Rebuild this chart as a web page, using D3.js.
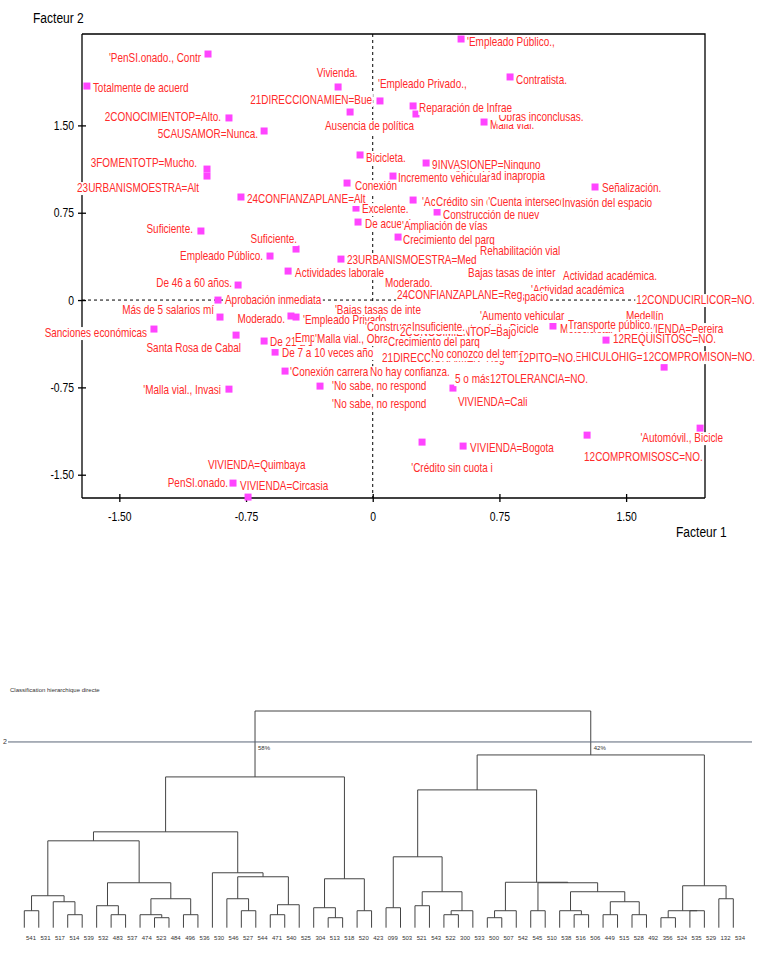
<!DOCTYPE html>
<html>
<head>
<meta charset="utf-8">
<script src="https://cdn.jsdelivr.net/npm/d3@7"></script>
<style>
  body { margin: 0; background: #fff; }
  svg text { font-family: "Liberation Sans", Arial, sans-serif; }
</style>
</head>
<body>
<svg id="chart" width="761" height="956"></svg>
<script>
// ---------- plan factoriel 1-2 : modalites ----------
var pointLabels = [
  "'Empleado Público.,", "'PenSI.onado., Contr", "Vivienda.", "Contratista.", "Totalmente de acuerd",
  "'Empleado Privado.,", "21DIRECCIONAMIEN=Bue", "Ausencia de política", "Malla vial.", "'Obras inconclusas.",
  "Reparación de Infrae", "2CONOCIMIENTOP=Alto.", "5CAUSAMOR=Nunca.", "Bicicleta.", "3FOMENTOTP=Mucho.",
  "9INVASIONEP=Ninguno", "'Velocidad inapropia", "Incremento vehicular", "23URBANISMOESTRA=Alt", "Conexión",
  "24CONFIANZAPLANE=Alt", "'Accidentes de tráns", "Crédito sin cuota in", "'Cuenta intersección", "Invasión del espacio",
  "Señalización.", "Excelente.", "Construcción de nuev", "De acuerdo.", "'Ampliación de vías",
  "Suficiente.", "Crecimiento del parq", "Rehabilitación vial", "Suficiente.", "Empleado Público.",
  "23URBANISMOESTRA=Med", "Actividades laborale", "De 46 a 60 años.", "Bajas tasas de inter", "Actividad académica.",
  "Moderado.", "'Actividad académica", "Invasión del espacio", "24CONFIANZAPLANE=Reg", "12CONDUCIRLICOR=NO.",
  "Aprobación inmediata", "Más de 5 salarios mí", "Moderado.", "'Bajas tasas de inte", "'Empleado Privado.",
  "Sanciones económicas", "Santa Rosa de Cabal", "'Aumento vehicular", "'Construcción de", "'Automóvil., Bicicle",
  "2CONOCIMIENTOP=Bajo", "Insuficiente.", "Motocicleta.", "Medellín", "VIVIENDA=Pereira",
  "Transporte público.", "12REQUISITOSC=NO.", "De 21 a 30 años.", "Empresario.", "'Malla vial., Obras",
  "Crecimiento del parq", "De 7 a 10 veces año", "21DIRECCIONAMIEN=Reg", "No conozco del tema.", "12VEHICULOHIG=NO.",
  "12PITO=NO.", "12COMPROMISON=NO.", "'Conexión carrera", "No hay confianza.", "'No sabe, no respond",
  "5 o más", "12TOLERANCIA=NO.", "'Malla vial., Invasi", "'No sabe, no respond", "VIVIENDA=Cali",
  "'Automóvil., Bicicle", "'Crédito sin cuota i", "VIVIENDA=Bogota", "12COMPROMISOSC=NO.", "VIVIENDA=Quimbaya",
  "PenSI.onado.", "VIVIENDA=Circasia"
];
var factor1 = [
  0.523, -0.975, -0.205, 0.813, -1.692,
  0.043, -0.134, -0.253, 0.659, 0.256,
  0.239, -0.851, -0.643, -0.075, -0.981,
  0.316, 0.991, 0.120, -0.981, -0.152,
  -0.780, 0.239, 0.404, 0.713, 1.150,
  1.316, -0.099, 0.381, -0.087, 0.203,
  -1.017, 0.150, 0.665, -0.454, -0.608,
  -0.188, -0.501, -0.797, 0.594, 1.156,
  0.102, 0.967, 0.535, 0.173, 1.589,
  -0.916, -0.904, -0.484, -0.194, -0.454,
  -1.295, -0.809, 0.665, -0.016, 0.523,
  0.191, 0.262, 1.067, 1.529, 1.606,
  1.186, 1.381, -0.643, -0.430, -0.312,
  0.120, -0.578, 0.085, 0.375, 1.121,
  0.890, 1.725, -0.519, 0.014, -0.312,
  0.517, 0.724, -0.851, -0.211, 0.475,
  1.938, 0.292, 0.535, 1.269, -0.946,
  -0.827, -0.738
];
var factor2 = [
  2.242, 2.113, 1.830, 1.916, 1.838,
  1.710, 1.615, 1.495, 1.529, 1.598,
  1.667, 1.564, 1.452, 1.246, 1.125,
  1.177, 1.065, 1.065, 1.065, 1.005,
  0.885, 0.859, 0.842, 0.842, 0.833,
  0.971, 0.790, 0.756, 0.670, 0.636,
  0.593, 0.541, 0.421, 0.438, 0.378,
  0.352, 0.249, 0.129, 0.232, 0.206,
  0.146, 0.086, 0.026, 0.043, 0.000,
  0.000, -0.146, -0.137, -0.086, -0.146,
  -0.249, -0.301, -0.137, -0.232, -0.249,
  -0.275, -0.232, -0.223, -0.137, -0.249,
  -0.215, -0.344, -0.352, -0.326, -0.335,
  -0.361, -0.447, -0.498, -0.464, -0.490,
  -0.498, -0.576, -0.610, -0.619, -0.739,
  -0.679, -0.679, -0.765, -0.893, -0.756,
  -1.100, -1.220, -1.254, -1.160, -1.418,
  -1.572, -1.692
];
// where each label sits relative to its square: [dx, dy, anchor]
var labelAt = [
  [6,3,"s"], [-7,4,"e"], [-1,-14,"m"], [6,3,"s"], [6,2,"s"],
  [-2,-17,"s"], [22,-12,"e"], [-5,0,"s"], [6,3,"s"], [81,3,"s"],
  [6,2,"s"], [-8,-1,"e"], [-6,3,"e"], [6,3,"s"], [-10,-6,"e"],
  [6,2,"s"], [5,0,"e"], [5,2,"s"], [-8,12,"e"], [8,3,"s"],
  [6,2,"s"], [9,2,"s"], [-5,0,"s"], [-5,0,"s"], [-5,0,"s"],
  [7,1,"s"], [6,1,"s"], [6,3,"s"], [7,2,"s"], [-5,0,"s"],
  [-8,-2,"e"], [5,3,"s"], [-5,0,"s"], [1,-10,"e"], [-7,0,"e"],
  [6,1,"s"], [7,2,"s"], [-6,-2,"e"], [-5,0,"s"], [-5,0,"s"],
  [-5,0,"s"], [-5,0,"s"], [-5,0,"s"], [-5,0,"s"], [-5,0,"s"],
  [7,0,"s"], [-6,-7,"e"], [-6,3,"e"], [-5,0,"s"], [7,3,"s"],
  [-7,4,"e"], [5,13,"e"], [-5,0,"s"], [-5,0,"s"], [-5,0,"s"],
  [-5,0,"s"], [-5,0,"s"], [7,3,"s"], [-5,0,"s"], [-5,0,"s"],
  [-5,0,"s"], [7,-1,"s"], [6,1,"s"], [-5,0,"s"], [-5,0,"s"],
  [-5,0,"s"], [7,1,"s"], [-5,0,"s"], [-5,0,"s"], [-5,0,"s"],
  [-5,0,"s"], [-21,-10,"s"], [5,1,"s"], [-5,0,"s"], [12,0,"s"],
  [-5,0,"s"], [-5,0,"s"], [-8,1,"e"], [-5,0,"s"], [5,14,"s"],
  [23,10,"e"], [30,26,"m"], [7,2,"s"], [-3,22,"s"], [-5,0,"s"],
  [-5,0,"e"], [-8,-11,"s"]
];
var axisTicks = [-1.5, -0.75, 0, 0.75, 1.5];

// ---------- classification hierarchique ----------
var leaves = ["541","531","517","514","539","532","483","537","474","523","484","496","536","530","546",
  "527","544","471","540","525","304","513","518","520","423","099","503","521","543","522",
  "300","533","500","507","542","545","510","538","516","506","449","515","528","492","356",
  "524","535","529","132","534"];
// hclust style: negative = leaf (1-based), positive = earlier merge row (1-based)
var merges = [
  [-1,-2],[-4,-5],[-3,2],[1,3],[-7,-8],[-6,5],[-10,-11],[-9,7],[-12,-13],[8,9],
  [6,10],[4,11],[-16,-17],[-15,13],[-18,-19],[15,-20],[14,16],[-14,17],[12,18],[-22,-23],
  [-21,20],[-24,-25],[21,22],[19,23],[-26,-27],[-28,-29],[-30,-31],[27,-32],[26,28],[25,29],
  [-33,-34],[31,-35],[-36,-37],[-39,-40],[-38,34],[-41,-42],[-43,-44],[36,37],[35,38],[33,39],
  [32,40],[30,41],[-45,-46],[-47,-48],[43,44],[-49,-50],[45,46],[42,47],[24,48]
];
var mergeHeights = [17,13,26,32,13,22,10,13,13,29,45,87,17,29,13,23,51,55,96,10,
  20,17,49,151,20,22,13,17,36,71,10,17,17,13,17,13,13,26,36,45,
  45.5,138,10,17,17,29,42,173,217];
var cutHeight = 186;
var nClasses = 2;
var classShares = ["58%", "42%"];

var svg = d3.select("#chart");
var narrow = 0.83; // the reference uses a condensed face

// ===== factorial map =====
var x = d3.scaleLinear().domain([-1.721, 1.967]).range([82, 705]);
var y = d3.scaleLinear().domain([2.285, -1.70]).range([34, 498]);
var tickFmt = function (d) { return d === 0 ? "0" : (d < 0 ? "-" : "") + Math.abs(d).toFixed(2); };

var plot = svg.append("g");

// zero lines
plot.append("line").attr("x1", x(0)).attr("x2", x(0)).attr("y1", y.range()[0]).attr("y2", y.range()[1])
  .attr("stroke", "#000").attr("stroke-dasharray", "3,3");
plot.append("line").attr("x1", x.range()[0]).attr("x2", x.range()[1]).attr("y1", y(0)).attr("y2", y(0))
  .attr("stroke", "#000").attr("stroke-dasharray", "3,3");

// frame top / right
plot.append("path")
  .attr("d", "M" + x.range()[0] + "," + y.range()[0] + "H" + x.range()[1] + "V" + y.range()[1])
  .attr("fill", "none").attr("stroke", "#000").attr("stroke-width", 1.3);

// axes (ticks cross the line)
var yAxis = d3.axisLeft(y).tickValues(axisTicks).tickFormat(tickFmt).tickSize(4).tickPadding(4);
var gy = plot.append("g").attr("transform", "translate(" + x.range()[0] + ",0)").call(yAxis);
var xAxis = d3.axisBottom(x).tickValues(axisTicks).tickFormat(tickFmt).tickSize(4).tickPadding(10);
var gx = plot.append("g").attr("transform", "translate(0," + y.range()[1] + ")").call(xAxis);
[gx, gy].forEach(function (g) {
  g.select(".domain").attr("stroke-width", 1.3);
  g.selectAll(".tick line").attr("stroke-width", 1.3);
  g.selectAll(".tick text").style("font-size", "12.5px").attr("fill", "#000")
    .attr("transform", "scale(" + narrow + ",1)");
});
gy.selectAll(".tick text").attr("x", -8 / narrow);
gy.selectAll(".tick line").attr("x1", 4);
gx.selectAll(".tick line").attr("y1", -4);
gy.select(".domain").attr("d", "M0," + y.range()[0] + "V" + y.range()[1]);
gx.select(".domain").attr("d", "M" + x.range()[0] + ",0H" + x.range()[1]);

plot.append("text").attr("transform", "translate(33,23) scale(" + narrow + ",1)")
  .style("font-size", "14.5px").text("Facteur 2");
plot.append("text").attr("transform", "translate(676,537) scale(" + narrow + ",1)")
  .style("font-size", "14.5px").text("Facteur 1");

// squares first, labels with white boxes on top
var pts = pointLabels.map(function (t, i) {
  return { label: t, f1: factor1[i], f2: factor2[i], at: labelAt[i] };
});
plot.append("g").selectAll("rect").data(pts).enter().append("rect")
  .attr("x", function (d) { return x(d.f1) - 3.5; })
  .attr("y", function (d) { return y(d.f2) - 3.5; })
  .attr("width", 7).attr("height", 7)
  .attr("fill", "#ff44ff");

var anchors = { s: "start", e: "end", m: "middle" };
var lab = plot.append("g").selectAll("g").data(pts).enter().append("g")
  .attr("transform", function (d) {
    return "translate(" + (x(d.f1) + d.at[0]) + "," + (y(d.f2) + d.at[1] + 4) + ") scale(" + narrow + ",1)";
  });
lab.append("text")
  .attr("text-anchor", function (d) { return anchors[d.at[2]]; })
  .style("font-size", "12px")
  .attr("fill", "#ff2a2a")
  .text(function (d) { return d.label; });
lab.each(function () {
  var g = d3.select(this), b = g.select("text").node().getBBox();
  g.insert("rect", "text").attr("x", b.x - 1).attr("y", -10).attr("width", b.width + 2).attr("height", 13)
    .attr("fill", "#fff");
});

// ===== dendrogram =====
var dend = svg.append("g");
var lx = d3.scalePoint().domain(leaves).range([24.3, 733.3]);
var hy = d3.scaleLinear().domain([0, 217]).range([927.7, 711]);

dend.append("text").attr("x", 10).attr("y", 692).style("font-size", "6px").attr("fill", "#333")
  .text("Classification hierarchique directe");

var nodeX = [], nodeH = [];
function pos(k) { return k < 0 ? { x: lx(leaves[-k - 1]), h: 0 } : { x: nodeX[k - 1], h: nodeH[k - 1] }; }
var segs = [];
merges.forEach(function (m, i) {
  var a = pos(m[0]), b = pos(m[1]), h = mergeHeights[i];
  segs.push([a.x, hy(a.h), a.x, hy(h)], [b.x, hy(b.h), b.x, hy(h)], [a.x, hy(h), b.x, hy(h)]);
  nodeX.push((a.x + b.x) / 2);
  nodeH.push(h);
});
dend.append("g").selectAll("line").data(segs).enter().append("line")
  .attr("x1", function (d) { return d[0]; }).attr("y1", function (d) { return d[1]; })
  .attr("x2", function (d) { return d[2]; }).attr("y2", function (d) { return d[3]; })
  .attr("stroke", "#444").attr("stroke-width", 1);

// cut line into 2 classes
dend.append("line").attr("x1", 8).attr("x2", 752).attr("y1", hy(cutHeight)).attr("y2", hy(cutHeight))
  .attr("stroke", "#5b6577").attr("stroke-width", 1);
dend.append("text").attr("x", 3).attr("y", hy(cutHeight) + 2.5).style("font-size", "7px").attr("fill", "#333")
  .text(String(nClasses));
var root = merges[merges.length - 1];
[root[0], root[1]].forEach(function (k, i) {
  dend.append("text").attr("x", pos(k).x + 3).attr("y", hy(cutHeight) + 8).style("font-size", "6px")
    .attr("fill", "#333").text(classShares[i]);
});

dend.append("g").selectAll("text").data(leaves).enter().append("text")
  .attr("x", function (d) { return lx(d) + 6.7; })
  .attr("y", 940)
  .attr("text-anchor", "middle")
  .style("font-size", "6px").attr("fill", "#333")
  .text(function (d) { return d; });
</script>
</body>
</html>
